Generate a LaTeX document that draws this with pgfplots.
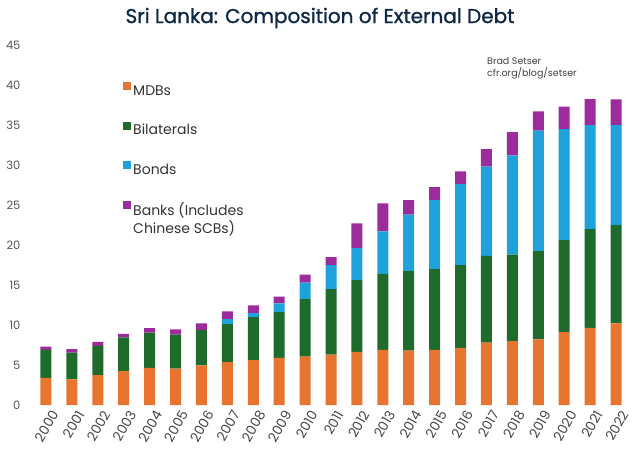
\documentclass[border=0pt]{standalone}
\usepackage{pgfplots}
\pgfplotsset{compat=1.18}
\usepackage{pgfplotstable}
\usepackage{fontspec}
\setmainfont{Poppins}
\newfontfamily\titlefont{Poppins}[FakeBold=1.2]
\definecolor{cMDB}{HTML}{E8752F}
\definecolor{cBil}{HTML}{1E6B2B}
\definecolor{cBond}{HTML}{1FA2D9}
\definecolor{cBank}{HTML}{9C2B9B}
\definecolor{titlec}{HTML}{0F2847}
\definecolor{tickc}{HTML}{555555}
\pgfplotstableread{
x  mdb   bil   bond  bank
0  3.40  3.50  0.00  0.40
1  3.20  3.35  0.00  0.45
2  3.75  3.65  0.00  0.50
3  4.25  4.20  0.00  0.45
4  4.65  4.40  0.00  0.55
5  4.55  4.25  0.00  0.65
6  4.95  4.40  0.00  0.85
7  5.35  4.75  0.65  0.95
8  5.60  5.40  0.50  0.95
9  5.90  5.70  1.10  0.85
10 6.05  7.20  2.05  1.00
11 6.30  8.20  3.00  1.00
12 6.65  8.95  4.00  3.10
13 6.90  9.50  5.30  3.50
14 6.80  9.95  7.05  1.80
15 6.90 10.10  8.60  1.65
16 7.15 10.35 10.10  1.60
17 7.80 10.85 11.15  2.20
18 8.00 10.80 12.40  2.90
19 8.20 11.05 15.05  2.40
20 9.10 11.50 13.90  2.80
21 9.65 12.35 13.00  3.25
22 10.20 12.30 12.50 3.20
}\debt
\begin{document}
\begin{tikzpicture}[x=1pt,y=1pt]
\useasboundingbox (0,0) rectangle (640,464);
\begin{axis}[
  at={(33pt,59pt)}, anchor=south west, scale only axis,
  width=596pt, height=360pt,
  xmin=-0.5, xmax=22.5, ymin=0, ymax=45,
  ybar stacked, bar width=11pt,
  axis line style={draw=none}, major tick length=0pt,
  xtick={0,...,22},
  xticklabels={2000,2001,2002,2003,2004,2005,2006,2007,2008,2009,2010,2011,2012,2013,2014,2015,2016,2017,2018,2019,2020,2021,2022},
  ytick={0,5,...,45},
  /pgf/number format/assume math mode=true,
  yticklabel style={font=\fontsize{11.5}{12}\selectfont, text=tickc, xshift=-9pt},
  xticklabel style={font=\fontsize{13.5}{13.5}\selectfont, text=tickc!85!black, rotate=60, anchor=east, xshift=2pt, yshift=-11pt},
  legend cell align=left,
  legend style={at={(0.146,0.902)}, anchor=north west, draw=none, fill=none,
    row sep=23pt, font=\fontsize{14}{17}\selectfont, text=black!80,
    nodes={inner sep=2pt}},
  legend image code/.code={\fill[#1] (0pt,0.5pt) rectangle (8pt,8.5pt);},
]
\addplot[fill=cMDB, draw=none] table[x=x,y=mdb]{\debt};
\addplot[fill=cBil, draw=none] table[x=x,y=bil]{\debt};
\addplot[fill=cBond, draw=none] table[x=x,y=bond]{\debt};
\addplot[fill=cBank, draw=none] table[x=x,y=bank]{\debt};
\legend{MDBs, Bilaterals, Bonds, {\begin{tabular}[t]{@{}l@{}}Banks (Includes\\Chinese SCBs)\end{tabular}}}
\end{axis}
\node[text=titlec, font=\titlefont\fontsize{20}{22}\selectfont] at (320,446) {Sri Lanka: Composition of External Debt};
\node[anchor=north west, align=left, text=black!75, font=\fontsize{9.5}{12.5}\selectfont, inner sep=0pt] at (487,407) {Brad Setser\\cfr.org/blog/setser};
\end{tikzpicture}
\end{document}
